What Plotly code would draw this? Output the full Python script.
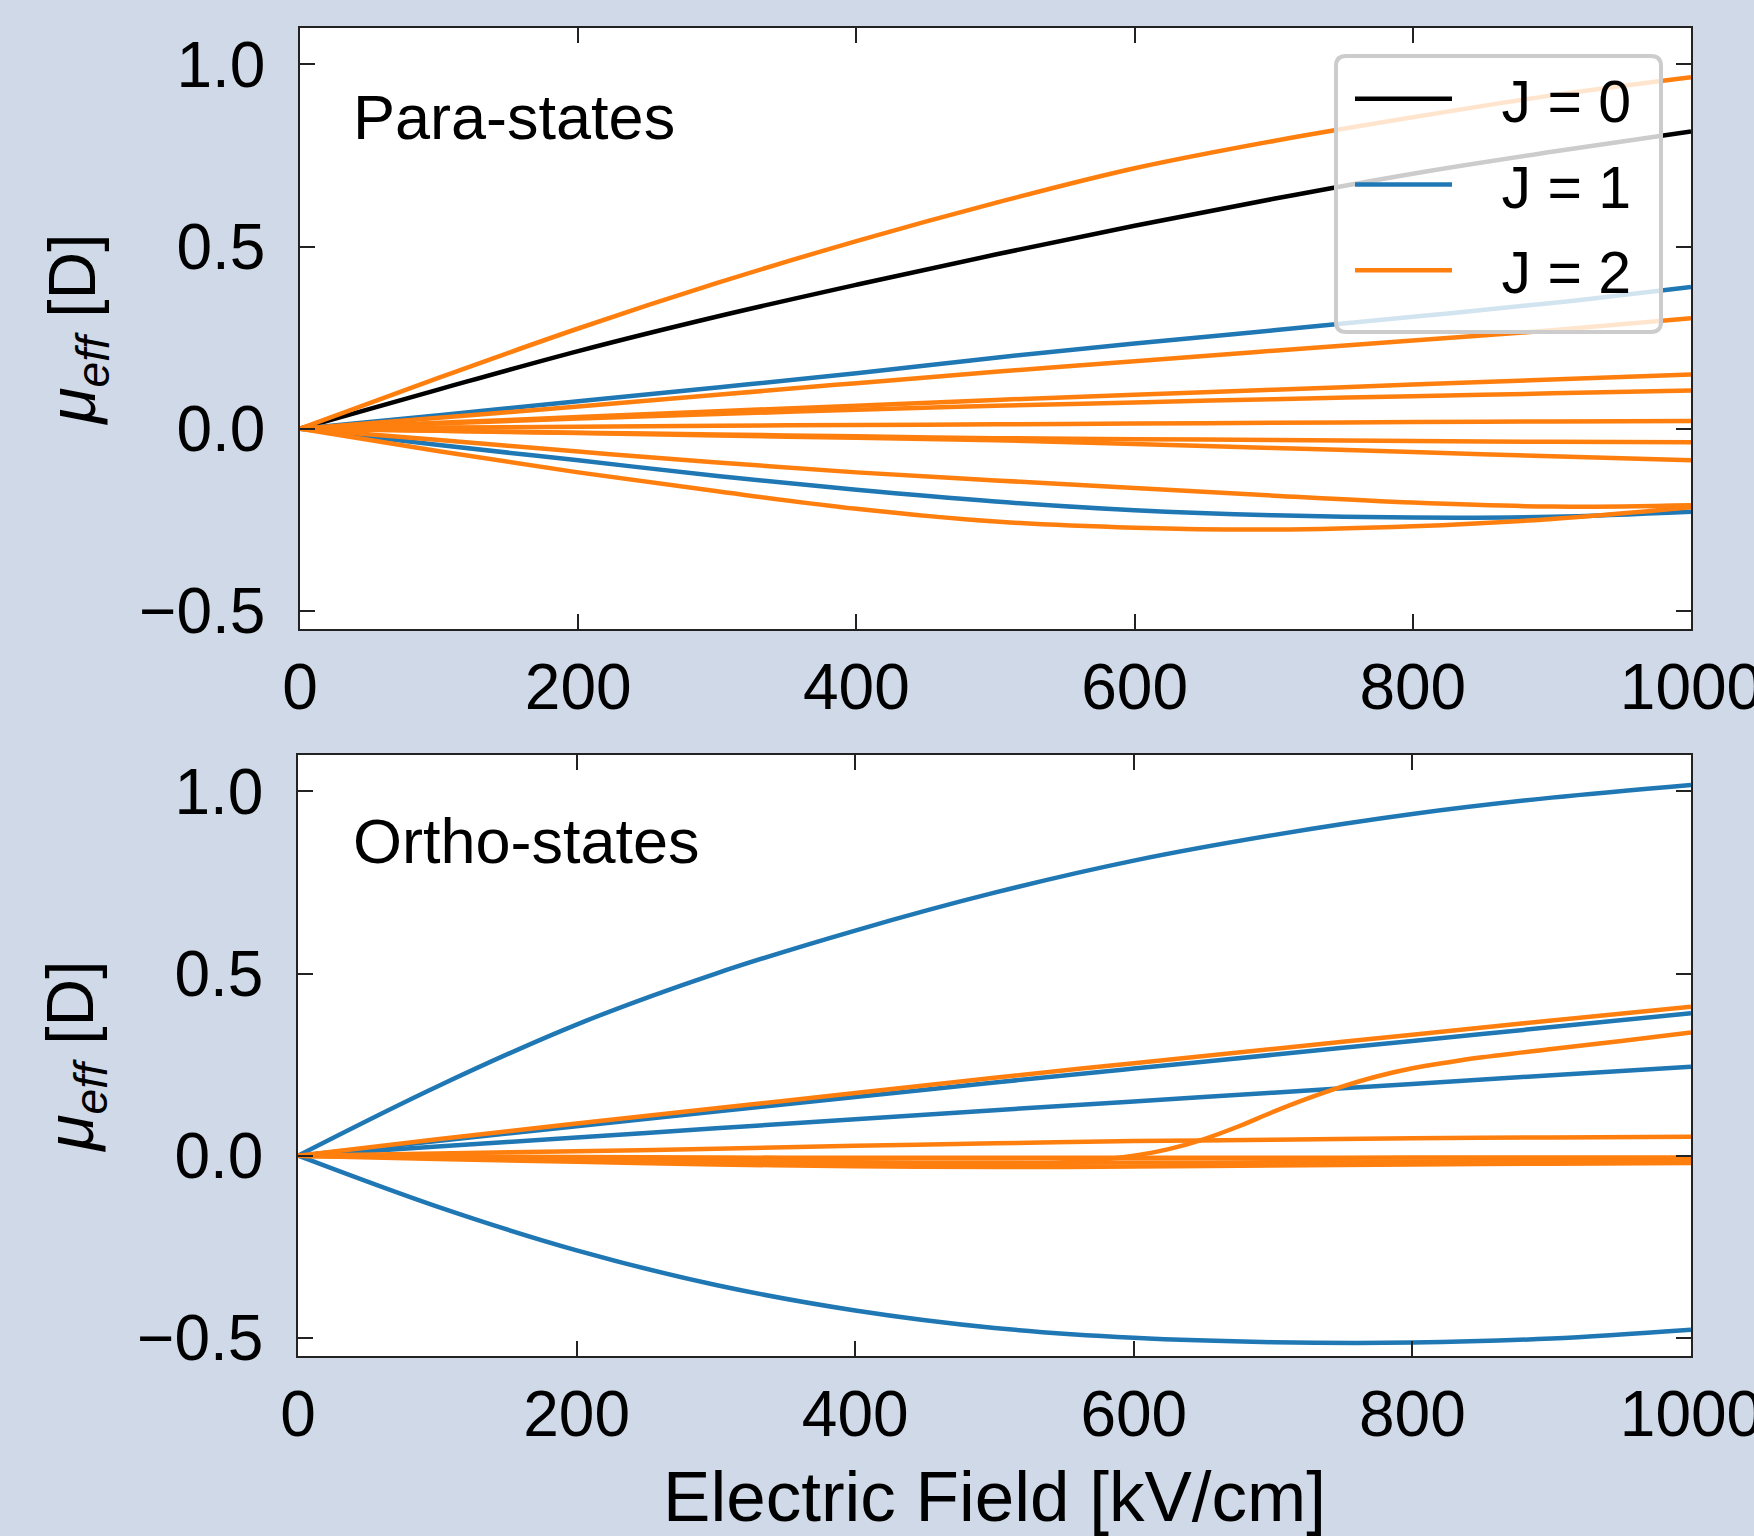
import plotly.graph_objects as go
from plotly.subplots import make_subplots

# ---------------- data ----------------
field = [0, 100, 200, 300, 400, 500, 600, 700, 800, 900, 1000]

# Para-states
para_J0 = [[0, 0.108, 0.213, 0.308, 0.395, 0.478, 0.557, 0.631, 0.700, 0.760, 0.816]]
para_J1 = [
    [0, 0.037, 0.075, 0.113, 0.152, 0.195, 0.234, 0.270, 0.307, 0.345, 0.389],
    [0, -0.045, -0.087, -0.130, -0.168, -0.200, -0.224, -0.238, -0.244, -0.242, -0.228],
]
para_J2 = [
    [0, 0.140, 0.275, 0.400, 0.515, 0.620, 0.715, 0.790, 0.855, 0.915, 0.965],
    [0, 0.030, 0.061, 0.093, 0.125, 0.156, 0.185, 0.214, 0.242, 0.270, 0.303],
    [0, 0.016, 0.032, 0.048, 0.063, 0.079, 0.093, 0.107, 0.121, 0.135, 0.149],
    [0, 0.014, 0.028, 0.040, 0.052, 0.063, 0.072, 0.081, 0.089, 0.097, 0.105],
    [0, 0.003, 0.005, 0.008, 0.010, 0.012, 0.014, 0.016, 0.018, 0.020, 0.021],
    [0, -0.006, -0.011, -0.016, -0.021, -0.026, -0.029, -0.031, -0.034, -0.036, -0.037],
    [0, -0.006, -0.012, -0.019, -0.025, -0.032, -0.042, -0.053, -0.064, -0.076, -0.087],
    [0, -0.031, -0.063, -0.093, -0.120, -0.142, -0.163, -0.184, -0.203, -0.214, -0.210],
    [0, -0.062, -0.120, -0.172, -0.220, -0.255, -0.272, -0.277, -0.268, -0.248, -0.216],
]

# Ortho-states
ortho_J1 = [
    [0, 0.190, 0.360, 0.500, 0.618, 0.722, 0.810, 0.880, 0.938, 0.983, 1.018],
    [0, 0.040, 0.081, 0.121, 0.161, 0.201, 0.239, 0.277, 0.315, 0.353, 0.391],
    [0, 0.025, 0.050, 0.075, 0.100, 0.125, 0.149, 0.173, 0.197, 0.221, 0.244],
    [0, -0.140, -0.260, -0.355, -0.425, -0.473, -0.500, -0.512, -0.513, -0.502, -0.478],
]
ortho_J2 = [
    [0, 0.045, 0.088, 0.130, 0.172, 0.214, 0.254, 0.293, 0.332, 0.371, 0.409],
    [0, 0.006, 0.012, 0.019, 0.027, 0.034, 0.040, 0.044, 0.048, 0.050, 0.052],
    [0, -0.002, -0.004, -0.005, -0.006, -0.006, -0.006, -0.006, -0.005, -0.005, -0.005],
    [0, -0.006, -0.011, -0.015, -0.018, -0.019, -0.019, -0.018, -0.016, -0.014, -0.012],
    [0, -0.009, -0.017, -0.024, -0.029, -0.031, -0.030, -0.027, -0.024, -0.022, -0.020],
]
# avoided-crossing ortho J=2 state (denser sampling)
field_ac = [0, 100, 200, 300, 400, 500, 550, 575, 600, 625, 650, 675, 700, 725, 750, 775,
            800, 825, 850, 900, 950, 1000]
ortho_J2_ac = [0, -0.005, -0.010, -0.015, -0.020, -0.022, -0.018, -0.011, 0.000, 0.018, 0.045,
               0.080, 0.120, 0.157, 0.190, 0.218, 0.240, 0.256, 0.270, 0.293, 0.315, 0.338]

legend_names = ["J = 0", "J = 1", "J = 2"]
colors = ["#000000", "#1f77b4", "#ff7f0e"]
x_ticks = [0, 200, 400, 600, 800, 1000]
y_ticks = [-0.5, 0.0, 0.5, 1.0]

# ---------------- figure ----------------
FONT = "Liberation Sans, Arial, sans-serif"
W, H = 1754, 1536
ML, MR, MT, MB = 298, 63, 28, 180
PW, PH = W - ML - MR, H - MT - MB

fig = make_subplots(rows=2, cols=1, vertical_spacing=0.09)

LW = 4.5


def add(x, y, jidx, row, show):
    fig.add_trace(go.Scatter(
        x=x, y=y, mode="lines", line=dict(color=colors[jidx], width=LW, shape="spline", smoothing=1.0),
        name="\u00a0\u00a0\u2009" + legend_names[jidx], legendgroup=legend_names[jidx],
        showlegend=show, hoverinfo="skip"), row=row, col=1)


for i, y in enumerate(para_J0):
    add(field, y, 0, 1, i == 0)
for i, y in enumerate(para_J1):
    add(field, y, 1, 1, i == 0)
for i, y in enumerate(para_J2):
    add(field, y, 2, 1, i == 0)

for y in ortho_J1:
    add(field, y, 1, 2, False)
for y in ortho_J2:
    add(field, y, 2, 2, False)
add(field_ac, ortho_J2_ac, 2, 2, False)


def px_x(p):
    return (p - ML) / PW


def px_y(p):
    return (H - MB - p) / PH


axis_common = dict(
    showgrid=False, zeroline=False, ticks="inside", ticklen=15, tickwidth=1.5, tickcolor="#222",
    showline=True, linecolor="#222", linewidth=1.5, mirror="allticks",
    tickfont=dict(family=FONT, size=64, color="black"),
)

fig.update_xaxes(range=[0, 1000], tickvals=x_ticks, ticklabelstandoff=1,
                 ticklabeloverflow="allow", **axis_common)
fig.update_yaxes(range=[-0.55, 1.1], tickvals=y_ticks, tickformat=".1f", ticklabelstandoff=20, **axis_common)

ytitle = "<i>μ</i><sub><i>eff</i></sub> [D]"
fig.update_layout(
    xaxis=dict(domain=[px_x(300), 1.0]),
    yaxis=dict(domain=[px_y(629), 1.0],
               title=dict(text=ytitle, font=dict(family=FONT, size=66, color="black"), standoff=22)),
    xaxis2=dict(domain=[0.0, 1.0],
                title=dict(text="Electric Field [kV/cm]", font=dict(family=FONT, size=71, color="black"),
                           standoff=38)),
    yaxis2=dict(domain=[0.0, px_y(755)],
                title=dict(text=ytitle, font=dict(family=FONT, size=66, color="black"), standoff=22)),
)


def rounded_rect(x0, y0, x1, y1, r):
    # pixel coordinates -> paper coordinates path with rounded corners
    X = lambda p: px_x(p)
    Y = lambda p: px_y(p)
    return (f"M{X(x0 + r)},{Y(y0)} L{X(x1 - r)},{Y(y0)} Q{X(x1)},{Y(y0)} {X(x1)},{Y(y0 + r)} "
            f"L{X(x1)},{Y(y1 - r)} Q{X(x1)},{Y(y1)} {X(x1 - r)},{Y(y1)} "
            f"L{X(x0 + r)},{Y(y1)} Q{X(x0)},{Y(y1)} {X(x0)},{Y(y1 - r)} "
            f"L{X(x0)},{Y(y0 + r)} Q{X(x0)},{Y(y0)} {X(x0 + r)},{Y(y0)} Z")


fig.add_shape(type="path", xref="paper", yref="paper", layer="above",
              path=rounded_rect(1336, 56, 1661, 332, 10),
              fillcolor="rgba(255,255,255,0.8)", line=dict(color="rgb(204,204,204)", width=4))

fig.add_annotation(text="Para-states", xref="paper", yref="paper", x=px_x(351), y=px_y(117),
                   xanchor="left", yanchor="middle", showarrow=False,
                   font=dict(family=FONT, size=63, color="black"))
fig.add_annotation(text="Ortho-states", xref="paper", yref="paper", x=px_x(351), y=px_y(841),
                   xanchor="left", yanchor="middle", showarrow=False,
                   font=dict(family=FONT, size=63, color="black"))

fig.update_layout(
    width=W, height=H,
    margin=dict(l=ML, r=MR, t=MT, b=MB, autoexpand=False),
    paper_bgcolor="rgb(207,217,231)",
    plot_bgcolor="white",
    font=dict(family=FONT, color="black"),
    showlegend=True,
    legend=dict(x=px_x(1350), y=px_y(54), xanchor="left", yanchor="top",
                bgcolor="rgba(0,0,0,0)", borderwidth=0, itemwidth=97, tracegroupgap=6,
                font=dict(family=FONT, size=59, color="black"), traceorder="grouped"),
)

fig.write_html(
    "out.html",
    config={"displayModeBar": False},
    post_script="document.body.style.margin='0px';document.body.style.padding='0px';"
                "document.body.style.background='rgb(207,217,231)';",
)
